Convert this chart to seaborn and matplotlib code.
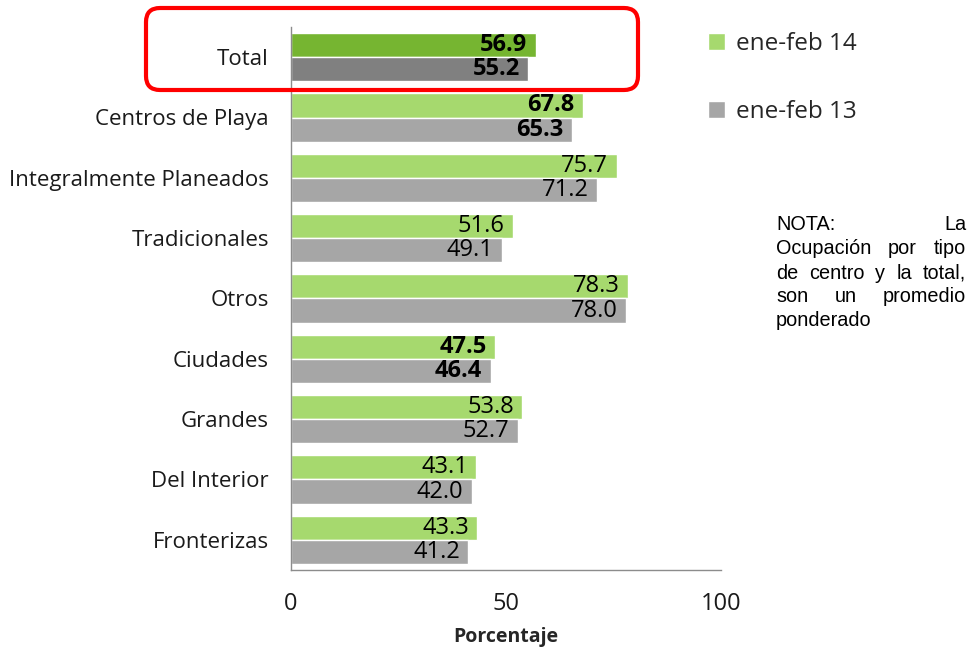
import numpy as np
import pandas as pd
import matplotlib.pyplot as plt
import seaborn as sns
from matplotlib.patches import FancyBboxPatch

categorias = ['Total', 'Centros de Playa', 'Integralmente Planeados', 'Tradicionales',
              'Otros', 'Ciudades', 'Grandes', 'Del Interior', 'Fronterizas']
ene_feb_14 = [56.9, 67.8, 75.7, 51.6, 78.3, 47.5, 53.8, 43.1, 43.3]
ene_feb_13 = [55.2, 65.3, 71.2, 49.1, 78.0, 46.4, 52.7, 42.0, 41.2]
series = ['ene-feb 14', 'ene-feb 13']
negritas = ['Total', 'Centros de Playa', 'Ciudades']

verde, gris = '#A6D96E', '#A6A6A6'
verde_total, gris_total = '#76B531', '#808080'
eje = '#8C8C8C'

df = pd.DataFrame({
    'categoria': categorias * 2,
    'serie': [series[0]] * len(categorias) + [series[1]] * len(categorias),
    'valor': ene_feb_14 + ene_feb_13,
})

sns.set_style('white')
plt.rcParams['font.family'] = ['Open Sans', 'DejaVu Sans']

fig = plt.figure(figsize=(9.69, 6.47), dpi=100)
ax = fig.add_axes([291 / 969, 1 - 570 / 647, 430 / 969, 543 / 647])

sns.barplot(data=df, x='valor', y='categoria', hue='serie', orient='h',
            palette=[verde, gris], width=0.8, saturation=1, ax=ax)

# recolor the Total bars
ax.containers[0][0].set_facecolor(verde_total)
ax.containers[1][0].set_facecolor(gris_total)

# value labels inside the bar ends
for cont, vals in zip(ax.containers, [ene_feb_14, ene_feb_13]):
    for bar, v, cat in zip(cont, vals, categorias):
        yc = bar.get_y() + bar.get_height() / 2
        ax.annotate(f'{v:.1f}', xy=(v, yc), xytext=(-6, 0), textcoords='offset points',
                    ha='right', va='center', fontsize=17, color='black',
                    fontweight='bold' if cat in negritas else 'normal')

ax.set_xlim(0, 100)
ax.set_ylim(len(categorias) - 0.5, -0.5)
ax.set_xticks([0, 50, 100])
ax.set_xticklabels(['0', '50', '100'], fontsize=17, color='#1a1a1a')
ax.set_yticks(range(len(categorias)))
ax.set_yticklabels(categorias, fontsize=16, color='#1a1a1a')
ax.set_yticks(np.arange(-0.5, len(categorias), 1), minor=True)
ax.tick_params(axis='y', which='major', length=0, pad=16)
ax.tick_params(axis='y', which='minor', length=5, color=eje, direction='out', width=1)
ax.tick_params(axis='x', length=7, color=eje, direction='out', width=1, pad=9)
ax.set_xlabel('Porcentaje', fontsize=14, fontweight='bold', labelpad=8)
ax.set_ylabel('')
for s in ['top', 'right']:
    ax.spines[s].set_visible(False)
for s in ['left', 'bottom']:
    ax.spines[s].set_color(eje)
    ax.spines[s].set_linewidth(1)

# legend
handles, labels = ax.get_legend_handles_labels()
ax.legend(handles, labels, loc='upper left', bbox_to_anchor=(708 / 969, 1 - 32 / 647),
          bbox_transform=fig.transFigure, frameon=False, fontsize=17.5,
          handlelength=0.7, handleheight=0.7, handletextpad=0.45, labelspacing=1.8,
          borderaxespad=0, borderpad=0)

# red highlight box around Total
caja = FancyBboxPatch((1.46, (647 - 90) / 100), 4.92, 0.82,
                      boxstyle='round,pad=0,rounding_size=0.14',
                      transform=fig.dpi_scale_trans, fill=False,
                      edgecolor='#FF0000', linewidth=3, clip_on=False)
fig.patches.append(caja)

# justified note
nota = ['NOTA: La', 'Ocupación por tipo', 'de centro y la total,', 'son un promedio', 'ponderado']
x0, x1 = 776, 966
y_lineas = [224, 249, 273, 297, 321]
renderer = fig.canvas.get_renderer()
for k, (linea, yl) in enumerate(zip(nota, y_lineas)):
    palabras = linea.split()
    textos = [fig.text(0, 1 - yl / 647, p, fontsize=14.3, family='Liberation Sans',
                       va='center', ha='left', color='black') for p in palabras]
    anchos = [t.get_window_extent(renderer).width for t in textos]
    if k == len(nota) - 1 or len(palabras) == 1:
        hueco = 4
    else:
        hueco = max((x1 - x0 - sum(anchos)) / (len(palabras) - 1), 3)
    x = x0
    for t, w in zip(textos, anchos):
        t.set_x(x / 969)
        x += w + hueco

fig.savefig('out.png', dpi=100)
